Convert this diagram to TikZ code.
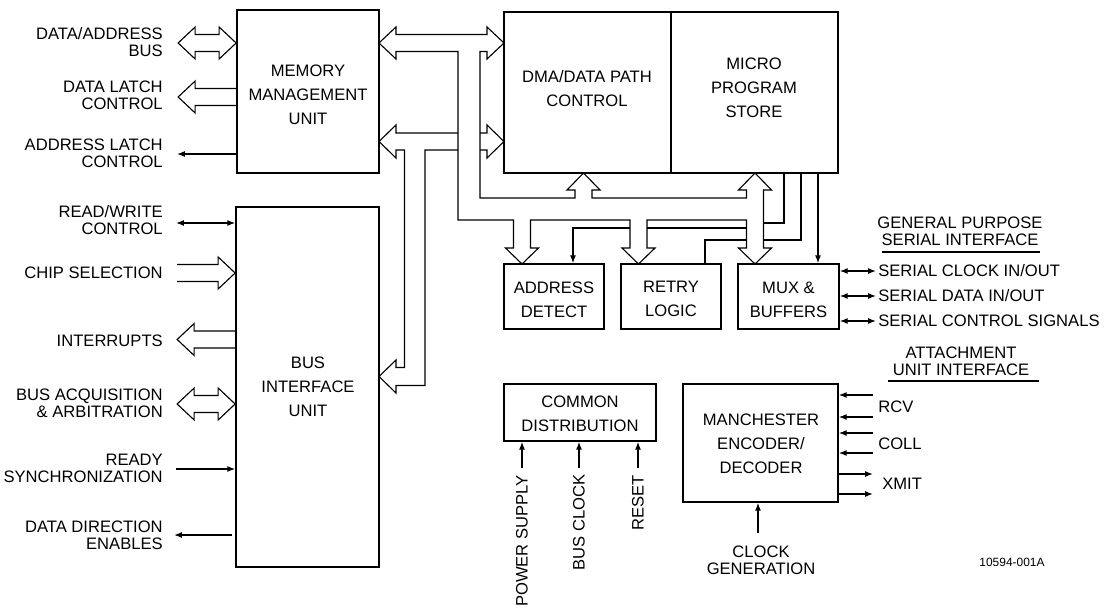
\documentclass[tikz,border=0pt]{standalone}
\usepackage{fontspec}
\setmainfont{Liberation Sans}
\usepackage{tikz}
\usetikzlibrary{arrows.meta, positioning, calc}

\begin{document}
\begin{tikzpicture}[x=0.025cm, y=-0.025cm,
        block/.style={rectangle, draw, line width=1.2pt, inner sep=0pt},
        btext/.style={align=center, inner sep=0pt, font=\fontsize{11.8}{17}\selectfont},
        sigtext/.style={align=right, anchor=east, inner sep=0pt, font=\fontsize{11.8}{12}\selectfont},
        sigleft/.style={anchor=west, inner sep=0pt, font=\fontsize{11.8}{12}\selectfont},
        headtext/.style={align=center, inner sep=0pt, font=\fontsize{11.8}{12}\selectfont},
        pipe/.style={line width=0.8pt, line join=miter},
        wire/.style={line width=0.8pt},
        arrow/.style={wire, -{Latex[length=5.5pt, width=4.2pt]}},
        twoway/.style={wire, {Latex[length=5.5pt, width=4.2pt]}-{Latex[length=5.5pt, width=4.2pt]}}
    ]
        \useasboundingbox (0,0) rectangle (1105,610);

        % Memory management unit
        \node[block, minimum width=3.55cm, minimum height=4.075cm] (mmu) at (308,91.5) {};
        \node[btext] (mmu-t) at (308,94.5) {MEMORY\\MANAGEMENT\\UNIT};

        % Bus interface unit
        \node[block, minimum width=3.575cm, minimum height=9cm] (biu) at (307.5,387) {};
        \node[btext] (biu-t) at (308,387) {BUS\\INTERFACE\\UNIT};

        % DMA and micro program store
        \node[block, minimum width=4.175cm, minimum height=4.025cm] (dma) at (587.5,92.5) {};
        \node[btext] (dma-t) at (587,88.5) {DMA/DATA PATH\\CONTROL};
        \node[block, minimum width=4.175cm, minimum height=4.025cm] (mps) at (754.5,92.5) {};
        \node[btext] (mps-t) at (754,88) {MICRO\\PROGRAM\\STORE};

        % Lower row
        \node[block, minimum width=2.5cm, minimum height=1.625cm] (ad) at (554,296.5) {};
        \node[btext] (ad-t) at (554,299.5) {ADDRESS\\DETECT};
        \node[block, minimum width=2.5cm, minimum height=1.625cm] (retry) at (671,296.5) {};
        \node[btext] (retry-t) at (671,299) {RETRY\\LOGIC};
        \node[block, minimum width=2.525cm, minimum height=1.625cm] (mux) at (788.5,296.5) {};
        \node[btext] (mux-t) at (788.5,299.5) {MUX \&\\BUFFERS};

        \node[block, minimum width=3.8cm, minimum height=1.425cm] (cd) at (580,412.5) {};
        \node[btext] (cd-t) at (580,413.5) {COMMON\\DISTRIBUTION};
        \node[block, minimum width=3.875cm, minimum height=2.95cm] (man) at (760.5,443) {};
        \node[btext] (man-t) at (761,444) {MANCHESTER\\ENCODER/\\DECODER};

        % Left side signals
        \node[sigtext] (l-dab) at (163,42) {DATA/ADDRESS\\BUS};
        \node[sigtext] (l-dlc) at (163,95) {DATA LATCH\\CONTROL};
        \node[sigtext] (l-alc) at (163,153) {ADDRESS LATCH\\CONTROL};
        \node[sigtext] (l-rw) at (163,220) {READ/WRITE\\CONTROL};
        \node[sigtext] (l-cs) at (163,273) {CHIP SELECTION};
        \node[sigtext] (l-int) at (163,341) {INTERRUPTS};
        \node[sigtext] (l-bus) at (163,403) {BUS ACQUISITION\\\& ARBITRATION};
        \node[sigtext] (l-rdy) at (163,468) {READY\\SYNCHRONIZATION};
        \node[sigtext] (l-dde) at (163,535) {DATA DIRECTION\\ENABLES};

        \draw[pipe] (mmu.west |- 0,43) -- ++(-17,-16) -- ++(0,7.5) -- ++(-24,0) -- ++(0,-7.5) -- ++(-17,16)
            -- ++(17,16) -- ++(0,-7.5) -- ++(24,0) -- ++(0,7.5) -- cycle;
        \draw[pipe] (mmu.west |- 0,88.5) -- ++(-41,0) -- ++(0,-7.5) -- ++(-17,16) -- ++(17,16) -- ++(0,-7.5) -- ++(41,0);
        \draw[arrow] (mmu.west |- 0,154) -- ++(-59,0);

        \draw[twoway] (biu.west |- 0,223) -- ++(-59,0);
        \draw[pipe] (biu.west |- 0,264.5) ++(-58,0) -- ++(41,0) -- ++(0,-7.5) -- ++(17,16) -- ++(-17,16) -- ++(0,-7.5) -- ++(-41,0);
        \draw[pipe] (biu.west |- 0,331) -- ++(-41,0) -- ++(0,-7.5) -- ++(-17,16) -- ++(17,16) -- ++(0,-7.5) -- ++(41,0);
        \draw[pipe] (biu.west |- 0,404) -- ++(-17,-16) -- ++(0,7.5) -- ++(-24,0) -- ++(0,-7.5) -- ++(-17,16)
            -- ++(17,16) -- ++(0,-7.5) -- ++(24,0) -- ++(0,7.5) -- cycle;
        \draw[arrow] (biu.west |- 0,469) ++(-59,0) -- ++(59,0);
        \draw[arrow] (biu.west |- 0,535) ++(-3,0) -- ++(-58,0);

        % Internal bus
        \draw[pipe] (379,43) -- (396,27) -- (396,34.5) -- (487,34.5) -- (487,27) -- (504,43) -- (487,59) -- (487,51.5)
            -- (480,51.5) -- (480,198) -- (575,198) -- (575,190) -- (567,190) -- (583.5,173) -- (600,190) -- (592,190)
            -- (592,198) -- (746.5,198) -- (746.5,190) -- (738.5,190) -- (755,173) -- (771.5,190) -- (763.5,190)
            -- (763.5,248) -- (771.5,248) -- (755,264) -- (738.5,248) -- (746.5,248) -- (746.5,220) -- (647,220)
            -- (647,248) -- (655,248) -- (638.5,264) -- (622,248) -- (630,248) -- (630,220) -- (530.5,220)
            -- (530.5,248) -- (538.5,248) -- (522,264) -- (505.5,248) -- (513.5,248) -- (513.5,220) -- (458,220)
            -- (458,51.5) -- (396,51.5) -- (396,59) -- cycle;
        \draw[pipe] (458,133) -- (396,133) -- (396,125) -- (379,141.5) -- (396,158) -- (396,150) -- (404.5,150)
            -- (404.5,367.5) -- (396,367.5) -- (396,360) -- (379,376.5) -- (396,393) -- (396,385.5) -- (425,385.5)
            -- (425,150) -- (458,150);
        \draw[pipe] (480,133) -- (487,133) -- (487,125) -- (504,141.5) -- (487,158) -- (487,150) -- (480,150);

        % Control lines
        \draw[wire] (746.5,228) -- (647,228);
        \draw[arrow] (630,228) -- (573,228) -- (573,0 |- ad.north);
        \draw[wire] (705,0 |- retry.north) -- (705,240) -- (746.5,240);
        \draw[wire] (784,0 |- mps.south) |- (763.5,223);
        \draw[wire] (801,0 |- mps.south) |- (763.5,240);
        \draw[arrow] (818,0 |- mps.south) -- (818,0 |- mux.north);

        % Serial interface
        \node[headtext] (gpsi) at (960,231) {GENERAL PURPOSE\\SERIAL INTERFACE};
        \draw[wire] (882,252) -- (1040,252);
        \draw[twoway] (mux.east |- 0,271) -- ++(36,0);
        \draw[twoway] (mux.east |- 0,296) -- ++(36,0);
        \draw[twoway] (mux.east |- 0,321) -- ++(36,0);
        \node[sigleft] (s-clk) at (878,271) {SERIAL CLOCK IN/OUT};
        \node[sigleft] (s-data) at (878,296) {SERIAL DATA IN/OUT};
        \node[sigleft] (s-ctrl) at (878,321) {SERIAL CONTROL SIGNALS};

        % Attachment unit interface
        \node[headtext] (aui) at (961,361) {ATTACHMENT\\UNIT INTERFACE};
        \draw[wire] (888,381) -- (1039,381);
        \draw[arrow] (man.east |- 0,395) ++(34,0) -- ++(-34,0);
        \draw[arrow] (man.east |- 0,417) ++(34,0) -- ++(-34,0);
        \draw[arrow] (man.east |- 0,433) ++(34,0) -- ++(-34,0);
        \draw[arrow] (man.east |- 0,453) ++(34,0) -- ++(-34,0);
        \draw[arrow] (man.east |- 0,474) -- ++(34,0);
        \draw[arrow] (man.east |- 0,494) -- ++(34,0);
        \node[sigleft] (rcv) at (878,407) {RCV};
        \node[sigleft] (coll) at (878,444) {COLL};
        \node[sigleft] (xmit) at (882,484) {XMIT};

        % Clock generation
        \draw[arrow] (man.south -| 758,0) ++(0,30) -- ++(0,-30);
        \node[headtext] (clkgen) at (761,560) {CLOCK\\GENERATION};

        % Common distribution inputs
        \draw[arrow] (cd.south -| 522,0) ++(0,26) -- ++(0,-26);
        \draw[arrow] (cd.south -| 579,0) ++(0,26) -- ++(0,-26);
        \draw[arrow] (cd.south -| 638,0) ++(0,26) -- ++(0,-26);
        \node[sigtext, rotate=90] (pwr) at (522,475) {POWER SUPPLY};
        \node[sigtext, rotate=90] (bclk) at (579,474) {BUS CLOCK};
        \node[sigtext, rotate=90] (rst) at (638,475) {RESET};

        \node[inner sep=0pt, font=\fontsize{8.5}{10}\selectfont] (fig) at (1012,562) {10594-001A};

    \end{tikzpicture}
\end{document}
